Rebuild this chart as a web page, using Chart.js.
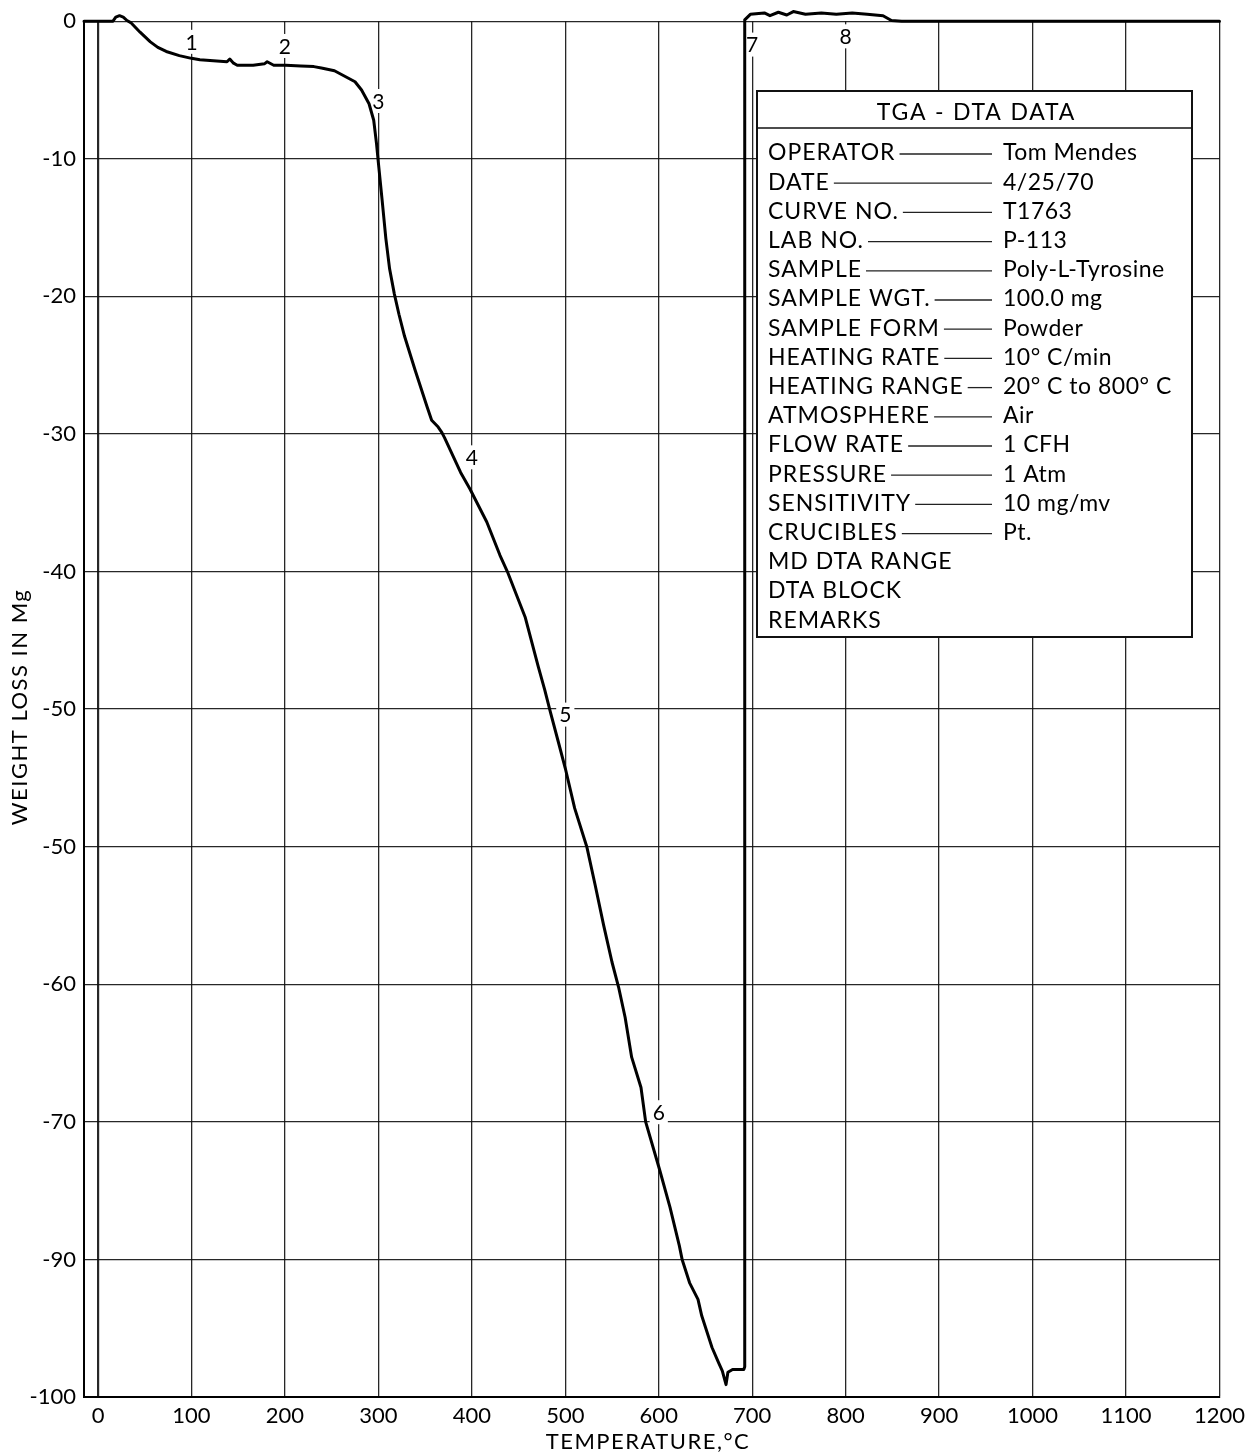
<!DOCTYPE html>
<html>
<head>
<meta charset="utf-8">
<title>TGA - DTA DATA</title>
<script src="https://cdn.jsdelivr.net/npm/chart.js@4.4.1/dist/chart.umd.min.js"></script>
<style>
html,body{margin:0;padding:0;background:#ffffff;}
#wrap{width:1251px;height:1456px;position:relative;}
canvas{display:block;}
</style>
</head>
<body>
<div id="wrap"><canvas id="c" width="1251" height="1456"></canvas></div>
<script>
// ---- Data ----
const temperatureC = [
  -15, 16, 19, 23, 27, 31, 35, 45, 56, 64, 73, 87, 100, 109, 127, 138, 141, 145, 149, 166,
  178, 181, 188, 201, 217, 231, 239, 253, 264, 275, 282, 290, 295, 298, 300, 304, 308, 312, 317, 322,
  328, 339, 352, 357, 364, 368, 371, 388, 398, 416, 430, 438, 457, 471, 478, 484, 493, 500, 510, 523,
  532, 541, 550, 557, 564, 571, 581, 586, 601, 612, 622, 625, 633, 642, 646, 657, 664, 668, 672, 674,
  679, 691, 692, 692, 698, 713, 719, 728, 737, 744, 757, 774, 790, 807, 823, 840, 849, 860, 1200
];
const weightLossMg = [
  0, 0, 0.3, 0.4, 0.3, 0.05, -0.1, -0.8, -1.5, -1.9, -2.2, -2.5, -2.7, -2.8, -2.9, -2.95, -2.75, -3.05, -3.2, -3.2,
  -3.1, -2.95, -3.2, -3.2, -3.25, -3.3, -3.4, -3.6, -4.0, -4.4, -5.0, -6.0, -7.2, -8.9, -10.3, -13.0, -15.8, -18.0, -19.8, -21.3,
  -22.9, -25.3, -28.0, -29.0, -29.5, -29.9, -30.3, -32.8, -34.0, -36.4, -38.8, -40, -43.3, -46.9, -48.6, -50.2, -52.5, -54.3, -57.2, -60,
  -62.8, -65.7, -68.4, -70.2, -72.4, -75.3, -77.5, -80, -83.5, -86.2, -89, -90, -91.7, -92.9, -94.1, -96.4, -97.5, -98.1, -99.1, -98.2,
  -98.0, -98.0, -97.8, 0.1, 0.5, 0.6, 0.4, 0.65, 0.45, 0.7, 0.5, 0.6, 0.5, 0.6, 0.5, 0.4, 0.05, 0, 0
];
const xTickValues = [0, 100, 200, 300, 400, 500, 600, 700, 800, 900, 1000, 1100, 1200];
const yTickLabels = ['0', '-10', '-20', '-30', '-40', '-50', '-50', '-60', '-70', '-90', '-100'];
const markerLabels = ['1', '2', '3', '4', '5', '6', '7', '8'];
const markerTemps = [100, 200, 300, 400, 500, 600, 700, 800];
const markerWeights = [-1.5, -1.8, -5.8, -31.7, -50.4, -79.3, -1.7, -1.1];
const infoTitle = 'TGA - DTA DATA';
const infoLabels = ['OPERATOR', 'DATE', 'CURVE NO.', 'LAB NO.', 'SAMPLE', 'SAMPLE WGT.', 'SAMPLE FORM',
  'HEATING RATE', 'HEATING RANGE', 'ATMOSPHERE', 'FLOW RATE', 'PRESSURE', 'SENSITIVITY', 'CRUCIBLES',
  'MD DTA RANGE', 'DTA BLOCK', 'REMARKS'];
const infoValues = ['Tom Mendes', '4/25/70', 'T1763', 'P-113', 'Poly-L-Tyrosine', '100.0 mg', 'Powder',
  '10\u00B0 C/min', '20\u00B0 C to 800\u00B0 C', 'Air', '1 CFH', '1 Atm', '10 mg/mv', 'Pt.', '', '', ''];
const xTitle = 'TEMPERATURE,\u00B0C';
const yTitle = 'WEIGHT LOSS IN Mg';

// ---- Styles ----
const FONT = 'Lato, "Open Sans", "DejaVu Sans", sans-serif';
const INK = '#000000';
const GRID = 'rgba(15,15,15,0.9)';

function setSpacing(ctx, px) {
  if ('letterSpacing' in ctx) ctx.letterSpacing = px + 'px';
}

const overlay = {
  id: 'overlay',
  beforeDatasetsDraw(chart) {
    const ctx = chart.ctx, xs = chart.scales.x, ys = chart.scales.y;
    ctx.save();
    ctx.font = '21px ' + FONT;
    ctx.textAlign = 'center';
    ctx.textBaseline = 'middle';
    markerLabels.forEach((t, i) => {
      const px = xs.getPixelForValue(markerTemps[i]);
      const py = ys.getPixelForValue(markerWeights[i]);
      const w = ctx.measureText(t).width + 6;
      ctx.fillStyle = '#ffffff';
      ctx.fillRect(px - w / 2, py - 12, w, 24);
      ctx.fillStyle = INK;
      ctx.fillText(t, px, py + 1);
    });
    ctx.restore();
  },
  afterDraw(chart) {
    const ctx = chart.ctx, area = chart.chartArea;
    ctx.save();
    // axis titles
    ctx.fillStyle = INK;
    ctx.font = '22px ' + FONT;
    setSpacing(ctx, 1.5);
    ctx.textAlign = 'center';
    ctx.textBaseline = 'middle';
    ctx.fillText(xTitle, 648, 1442);
    ctx.save();
    ctx.translate(20, 707);
    ctx.rotate(-Math.PI / 2);
    ctx.fillText(yTitle, 0, 0);
    ctx.restore();

    // info box
    const bx = 757, by = 91, bw = 435, bh = 546;
    ctx.fillStyle = '#ffffff';
    ctx.fillRect(bx, by, bw, bh);
    ctx.strokeStyle = '#111';
    ctx.lineWidth = 2;
    ctx.strokeRect(bx, by, bw, bh);
    ctx.beginPath();
    ctx.moveTo(bx, 128);
    ctx.lineTo(bx + bw, 128);
    ctx.lineWidth = 1.5;
    ctx.stroke();

    ctx.font = '23px ' + FONT;
    ctx.fillStyle = INK;
    ctx.textAlign = 'center';
    setSpacing(ctx, 1.8);
    ctx.fillText(infoTitle, bx + bw / 2 + 2, 113);
    ctx.textAlign = 'left';
    const rowTop = 153, rowStep = 29.2;
    infoLabels.forEach((lab, i) => {
      const y = rowTop + i * rowStep;
      setSpacing(ctx, 1.0);
      ctx.fillText(lab, 768, y);
      const endLab = 768 + ctx.measureText(lab).width;
      if (infoValues[i]) {
        setSpacing(ctx, 0.5);
        ctx.fillText(infoValues[i], 1003, y);
        const s = endLab + 4;
        const e = Math.max(992, s + 10);
        ctx.beginPath();
        ctx.moveTo(s, y + 1);
        ctx.lineTo(e, y + 1);
        ctx.lineWidth = 1.3;
        ctx.strokeStyle = '#222';
        ctx.stroke();
      }
    });
    ctx.restore();
  }
};

new Chart(document.getElementById('c'), {
  type: 'line',
  data: {
    datasets: [{
      label: 'TGA',
      data: temperatureC.map((t, i) => ({ x: t, y: weightLossMg[i] })),
      borderColor: INK,
      borderWidth: 3,
      pointRadius: 0,
      tension: 0,
      fill: false,
      clip: false,
      borderJoinStyle: 'round',
      borderCapStyle: 'round'
    }]
  },
  options: {
    responsive: false,
    animation: false,
    devicePixelRatio: 1,
    layout: { padding: { left: 0, top: 17, right: 31, bottom: 0 } },
    plugins: { legend: { display: false }, tooltip: { enabled: false }, title: { display: false } },
    scales: {
      x: {
        type: 'linear',
        min: -15,
        max: 1200,
        afterBuildTicks(s) { s.ticks = xTickValues.map(v => ({ value: v })); },
        afterFit(s) { s.height = 59; },
        ticks: {
          autoSkip: false,
          maxRotation: 0,
          padding: 6,
          color: INK,
          font: { family: FONT, size: 22 },
          callback: v => String(v)
        },
        grid: {
          drawTicks: false,
          color: GRID,
          lineWidth: c => (c.tick && c.tick.value === 0) ? 2.2 : 1.3
        },
        border: { display: true, color: INK, width: 2 }
      },
      y: {
        type: 'linear',
        min: -100,
        max: 0,
        afterFit(s) { s.width = 84; },
        ticks: {
          stepSize: 10,
          padding: 8,
          color: INK,
          font: { family: FONT, size: 22 },
          callback: v => yTickLabels[Math.round(-v / 10)]
        },
        grid: { drawTicks: false, color: GRID, lineWidth: 1.3 },
        border: { display: true, color: INK, width: 2 }
      }
    }
  },
  plugins: [overlay]
});
</script>
</body>
</html>
